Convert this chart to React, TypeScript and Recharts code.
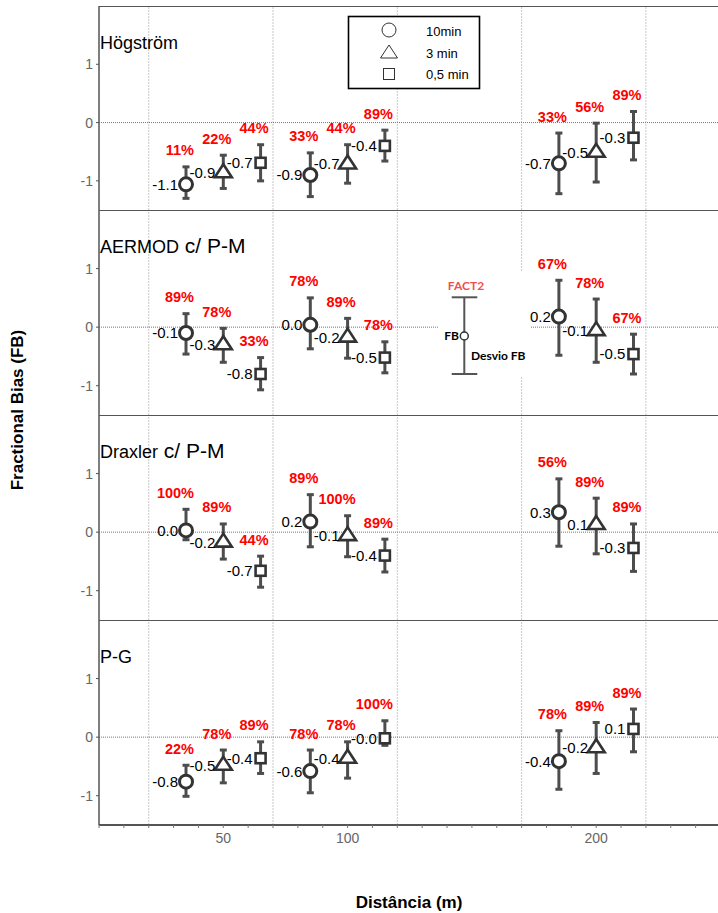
import { ScatterChart, Scatter, XAxis, YAxis, ErrorBar, ReferenceLine } from "recharts";

const DISTANCES = [50, 100, 200];
const SERIES = ["10min", "3 min", "0,5 min"];
// horizontal dodge of each averaging time around its distance (axis units)
const SERIES_SHIFT = [-15, 0, 15];
const PANELS = ["Högström", "AERMOD", "Draxler", "P-G"];
const PANEL_SUFFIX = ["", "c/ P-M", "c/ P-M", ""];

// rows: 10min, 3 min, 0,5 min — columns: 50, 100, 200 m
const HOG_FB = [[-1.06, -0.9, -0.7], [-0.86, -0.71, -0.51], [-0.69, -0.4, -0.26]];
const HOG_LO = [[-1.3, -1.27, -1.22], [-1.13, -1.04, -1.02], [-1.0, -0.66, -0.64]];
const HOG_HI = [[-0.76, -0.52, -0.18], [-0.56, -0.38, -0.01], [-0.38, -0.13, 0.19]];
const HOG_PCT = [[11, 33, 33], [22, 44, 56], [44, 89, 89]];

const AER_FB = [[-0.1, 0.04, 0.18], [-0.3, -0.17, -0.06], [-0.8, -0.52, -0.46]];
const AER_LO = [[-0.46, -0.37, -0.48], [-0.6, -0.53, -0.6], [-1.07, -0.78, -0.8]];
const AER_HI = [[0.23, 0.5, 0.8], [-0.02, 0.15, 0.48], [-0.52, -0.25, -0.12]];
const AER_PCT = [[89, 78, 67], [78, 89, 78], [33, 78, 67]];

const DRX_FB = [[0.03, 0.18, 0.34], [-0.17, -0.06, 0.13], [-0.66, -0.4, -0.27]];
const DRX_LO = [[-0.13, -0.25, -0.24], [-0.46, -0.42, -0.37], [-0.94, -0.68, -0.67]];
const DRX_HI = [[0.39, 0.64, 0.91], [0.14, 0.28, 0.58], [-0.41, -0.12, 0.14]];
const DRX_PCT = [[100, 89, 56], [89, 100, 89], [44, 89, 89]];

const PG_FB = [[-0.76, -0.58, -0.41], [-0.48, -0.36, -0.18], [-0.36, -0.02, 0.14]];
const PG_LO = [[-1.01, -0.95, -0.89], [-0.78, -0.7, -0.62], [-0.62, -0.14, -0.25]];
const PG_HI = [[-0.48, -0.22, 0.11], [-0.22, -0.08, 0.25], [-0.08, 0.28, 0.48]];
const PG_PCT = [[22, 78, 78], [78, 78, 89], [89, 100, 89]];

const X_LABELS = [50, 100, 200];
const X_MINOR = [0, 10, 20, 30, 40, 50, 60, 70, 80, 90, 100, 110, 120, 130, 140, 150, 160, 170, 180, 190, 200, 210, 220, 230, 240];
const X_GRID = [20, 70, 120, 170, 220];
const Y_TICKS = [-1, 0, 1];

const PANEL_H = 205;
const PANEL_TOPS = [6, 210, 415, 620];
const INK = "#333";
const BAR = "#4d4d4d";

function buildRows(fb: number[][], lo: number[][], hi: number[][], pct: number[][]) {
  return fb.map((vals, s) =>
    vals.map((y, i) => ({
      x: DISTANCES[i] + SERIES_SHIFT[s],
      y,
      err: [y - lo[s][i], hi[s][i] - y],
      top: hi[s][i],
      pct: pct[s][i],
    }))
  );
}

const PANEL_ROWS = [
  buildRows(HOG_FB, HOG_LO, HOG_HI, HOG_PCT),
  buildRows(AER_FB, AER_LO, AER_HI, AER_PCT),
  buildRows(DRX_FB, DRX_LO, DRX_HI, DRX_PCT),
  buildRows(PG_FB, PG_LO, PG_HI, PG_PCT),
];

function symbol(kind: number, cx: number, cy: number) {
  if (kind === 0)
    return <circle cx={cx} cy={cy} r={6.5} fill="#fff" stroke={INK} strokeWidth={3} />;
  if (kind === 1)
    return (
      <polygon
        points={`${cx},${cy - 8.5} ${cx - 8.5},${cy + 4.5} ${cx + 8.5},${cy + 4.5}`}
        fill="#fff"
        stroke={INK}
        strokeWidth={2.6}
      />
    );
  return <rect x={cx - 5} y={cy - 5} width={10} height={10} fill="#fff" stroke={INK} strokeWidth={2.6} />;
}

const makeMarker = (kind: number) => (props: any) => {
  const { cx, cy, payload } = props;
  return (
    <g>
      {symbol(kind, cx, cy)}
      <text x={cx - 8} y={cy} dy="0.36em" textAnchor="end" fontSize={15} fill="#000">
        {payload.y.toFixed(1)}
      </text>
    </g>
  );
};
const MARKERS = [makeMarker(0), makeMarker(1), makeMarker(2)];

const PctLabel = (props: any) => {
  const { cx, cy, payload } = props;
  return (
    <text x={cx + 8} y={cy - 11.5} textAnchor="end" fontSize={14.5} fontWeight="bold" fill="#ff0000">
      {payload.pct}%
    </text>
  );
};

function Panel({ rows, top, height, last }: { rows: any[][]; top: number; height: number; last: boolean }) {
  const pctRows = rows.flat().map((r) => ({ x: r.x, y: r.top, pct: r.pct }));
  return (
    <div style={{ position: "absolute", left: 0, top }}>
      <ScatterChart width={718} height={last ? height + 45 : height} margin={{ top: 0, right: 0, bottom: 0, left: 0 }}>
        <XAxis
          type="number"
          dataKey="x"
          domain={[0, 249]}
          ticks={X_MINOR}
          interval={0}
          hide={!last}
          height={45}
          tickFormatter={(v: number) => (X_LABELS.includes(v) ? String(v) : "")}
          tickSize={3}
          tickMargin={5}
          tick={{ fill: "#666", fontSize: 14 }}
          tickLine={{ stroke: "#777" }}
          axisLine={{ stroke: "#555", strokeWidth: 2 }}
        />
        {last && (
          <XAxis
            xAxisId="top"
            orientation="top"
            type="number"
            dataKey="x"
            domain={[0, 249]}
            ticks={X_MINOR}
            interval={0}
            height={0}
            mirror
            tick={false}
            tickSize={3}
            axisLine={false}
            tickLine={{ stroke: "#777" }}
          />
        )}
        <YAxis
          type="number"
          dataKey="y"
          domain={[-1.5, 2]}
          ticks={Y_TICKS}
          interval={0}
          width={99}
          tickSize={3}
          tickMargin={3}
          tick={{ fill: "#666", fontSize: 14 }}
          tickLine={{ stroke: "#555" }}
          axisLine={{ stroke: "#555", strokeWidth: 1.5 }}
        />
        {X_GRID.map((g) => (
          <ReferenceLine key={g} x={g} stroke="#c8c8c8" strokeDasharray="2 1" />
        ))}
        <ReferenceLine y={0} stroke="#777" strokeDasharray="1 1" />
        <ReferenceLine y={2} stroke="#555" strokeWidth={2} />
        {rows.map((data, s) => (
          <Scatter key={SERIES[s]} name={SERIES[s]} data={data} shape={MARKERS[s]} isAnimationActive={false}>
            <ErrorBar dataKey="err" direction="y" width={3.5} strokeWidth={3} stroke={BAR} />
          </Scatter>
        ))}
        <Scatter name="pct" data={pctRows} shape={PctLabel} isAnimationActive={false} />
      </ScatterChart>
    </div>
  );
}

export default function App() {
  return (
    <div
      style={{
        position: "absolute",
        left: 0,
        top: 0,
        width: 718,
        height: 913,
        background: "#fff",
        fontFamily: "'Liberation Sans', Arial, sans-serif",
        overflow: "hidden",
      }}
    >
      {PANEL_ROWS.map((rows, i) => (
        <Panel
          key={PANELS[i]}
          rows={rows}
          top={PANEL_TOPS[i]}
          height={i === 0 ? PANEL_TOPS[1] - PANEL_TOPS[0] : PANEL_H}
          last={i === PANEL_ROWS.length - 1}
        />
      ))}

      <svg width={718} height={913} style={{ position: "absolute", left: 0, top: 0, pointerEvents: "none" }}>
        {PANELS.map((t, i) => (
          <text key={t} x={100} y={PANEL_TOPS[i] + 43} fontSize={18} fill="#000">
            {t}
            {PANEL_SUFFIX[i] && <tspan fontSize={21}>{" " + PANEL_SUFFIX[i]}</tspan>}
          </text>
        ))}

        {/* series legend */}
        <rect x={348.5} y={16.5} width={131} height={72} fill="#fff" stroke="#000" strokeWidth={1.6} />
        <circle cx={389} cy={30} r={7} fill="none" stroke={INK} strokeWidth={1} />
        <polygon points="389,45 380.5,58 397.5,58" fill="none" stroke={INK} strokeWidth={1} />
        <rect x={383.5} y={68.5} width={11} height={11} fill="none" stroke={INK} strokeWidth={1} />
        {SERIES.map((s, i) => (
          <text key={s} x={426} y={36 + i * 21.5} fontSize={13} fill="#000">
            {s}
          </text>
        ))}

        {/* FACT2 error bar key */}
        <g fontFamily="Lato, 'Open Sans', sans-serif" fontWeight="bold" fontSize={12}>
          <rect x={438} y={272} width={92} height={104} fill="#fff" />
          <text x={466} y={290} textAnchor="middle" fill="#f05050">FACT2</text>
          <line x1={464.3} y1={297.3} x2={464.3} y2={374} stroke="#555" strokeWidth={2} />
          <line x1={451.7} y1={297.3} x2={477.3} y2={297.3} stroke="#555" strokeWidth={2} />
          <line x1={451.7} y1={374} x2={477.3} y2={374} stroke="#555" strokeWidth={2} />
          <circle cx={464.3} cy={336} r={4} fill="#fff" stroke={INK} strokeWidth={1.5} />
          <text x={459} y={340} textAnchor="end" fill="#000">FB</text>
          <text x={471} y={360} fill="#000">Desvio FB</text>
        </g>

        <text transform="translate(23,410) rotate(-90)" textAnchor="middle" fontWeight="bold" fontSize={17} fill="#000">
          Fractional Bias (FB)
        </text>
        <text x={409} y={908} textAnchor="middle" fontWeight="bold" fontSize={17} fill="#000">
          Distância (m)
        </text>
      </svg>
    </div>
  );
}
